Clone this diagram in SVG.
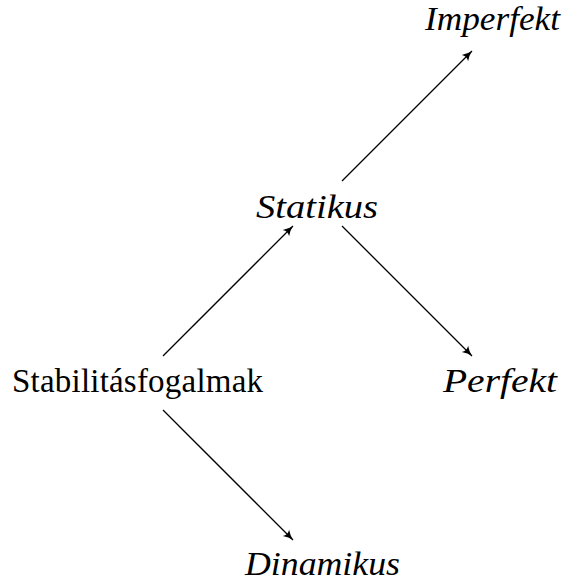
<svg xmlns="http://www.w3.org/2000/svg" width="577" height="585" viewBox="0 0 577 585">
<style>
.e{stroke:#000;stroke-width:1.3;fill:none;marker-end:url(#ah)}
</style>
<defs>
<marker id="ah" viewBox="0 0 12 10" refX="10" refY="5" markerWidth="12" markerHeight="10" markerUnits="userSpaceOnUse" orient="auto">
<path d="M0,0.5 Q5,4 10,5 Q5,6 0,9.5 Q3,5 0,0.5Z" fill="#000"/>
</marker>
</defs>
<rect width="577" height="585" fill="#fff"/>
<g id="connectors">
<line class="e" x1="163" y1="356" x2="293" y2="226"/>
<line class="e" x1="342" y1="181" x2="472" y2="51"/>
<line class="e" x1="342" y1="226" x2="472" y2="356"/>
<line class="e" x1="163" y1="410" x2="293" y2="540"/>
</g>
<g id="stabilitasfogalmak"><text x="12" y="392" font-family="Liberation Serif" font-size="33" textLength="251" lengthAdjust="spacing">Stabilitásfogalmak</text></g>
<g id="statikus"><text x="256" y="218" font-family="Liberation Serif" font-style="italic" font-size="33" textLength="122" lengthAdjust="spacingAndGlyphs">Statikus</text></g>
<g id="imperfekt"><text x="425" y="30" font-family="Liberation Serif" font-style="italic" font-size="33" textLength="135" lengthAdjust="spacingAndGlyphs">Imperfekt</text></g>
<g id="perfekt"><text x="443" y="392" font-family="Liberation Serif" font-style="italic" font-size="33" textLength="114" lengthAdjust="spacingAndGlyphs">Perfekt</text></g>
<g id="dinamikus"><text x="245" y="575" font-family="Liberation Serif" font-style="italic" font-size="33" textLength="155" lengthAdjust="spacingAndGlyphs">Dinamikus</text></g>
</svg>
